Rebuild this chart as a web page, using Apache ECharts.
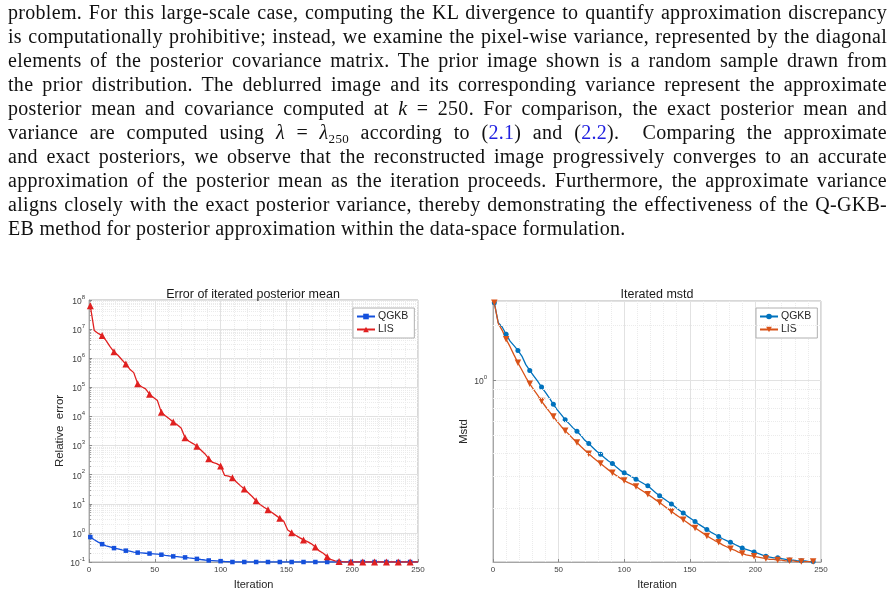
<!DOCTYPE html>
<html>
<head>
<meta charset="utf-8">
<script src="https://cdn.jsdelivr.net/npm/echarts@6/dist/echarts.min.js"></script>
<style>
	html, body { margin: 0; padding: 0; background: #fff; }
	#chart { position: absolute; left: 0; top: 0; width: 895px; height: 593px; }
	#para { position: absolute; left: 8px; top: 0; width: 879px; z-index: 2;
		font-family: 'Liberation Serif', 'DejaVu Serif', serif; font-size: 20px; letter-spacing: 0.3px; color: #111; }
	#para .ln { height: 24px; line-height: 24px; text-align: justify; text-align-last: justify; white-space: nowrap; }
	#para .ln.last { text-align-last: left; }
	#para sub { font-size: 13px; line-height: 0; vertical-align: -4px; }
	#para .ref { color: #2020e0; }
</style>
</head>
<body>
<div id="para">
	<div class="ln">problem. For this large-scale case, computing the KL divergence to quantify approximation discrepancy</div>
	<div class="ln">is computationally prohibitive; instead, we examine the pixel-wise variance, represented by the diagonal</div>
	<div class="ln">elements of the posterior covariance matrix. The prior image shown is a random sample drawn from</div>
	<div class="ln">the prior distribution. The deblurred image and its corresponding variance represent the approximate</div>
	<div class="ln">posterior mean and covariance computed at <i>k</i> = 250. For comparison, the exact posterior mean and</div>
	<div class="ln">variance are computed using <i>λ</i> = <i>λ</i><sub>250</sub> according to (<span class="ref">2.1</span>) and (<span class="ref">2.2</span>). &nbsp;Comparing the approximate</div>
	<div class="ln">and exact posteriors, we observe that the reconstructed image progressively converges to an accurate</div>
	<div class="ln">approximation of the posterior mean as the iteration proceeds. Furthermore, the approximate variance</div>
	<div class="ln">aligns closely with the exact posterior variance, thereby demonstrating the effectiveness of the Q-GKB-</div>
	<div class="ln last">EB method for posterior approximation within the data-space formulation.</div>
</div>
<div id="chart"></div>
<script>
// iterations sampled every 3 steps (markers every 9)
var iterLeft = [1, 4, 7, 10, 13, 16, 19, 22, 25, 28, 31, 34, 37, 40, 43, 46, 49, 52, 55, 58,
	61, 64, 67, 70, 73, 76, 79, 82, 85, 88, 91, 94, 97, 100, 103, 106, 109, 112, 115, 118,
	121, 124, 127, 130, 133, 136, 139, 142, 145, 148, 151, 154, 157, 160, 163, 166, 169, 172, 175, 178,
	181, 184, 187, 190, 193, 196, 199, 202, 205, 208, 211, 214, 217, 220, 223, 226, 229, 232, 235, 238,
	241, 244, 247, 250];
var errQGKB = [0.72, 0.58, 0.48, 0.41, 0.36, 0.33, 0.30, 0.28, 0.26, 0.245, 0.235, 0.22, 0.21, 0.205, 0.20, 0.195, 0.19, 0.185, 0.178, 0.17,
	0.163, 0.156, 0.152, 0.148, 0.144, 0.138, 0.133, 0.128, 0.122, 0.117, 0.113, 0.111, 0.109, 0.107, 0.104, 0.102, 0.1, 0.1, 0.1, 0.1,
	0.1, 0.1, 0.1, 0.1, 0.1, 0.1, 0.1, 0.1, 0.1, 0.1, 0.1, 0.1, 0.1, 0.1, 0.1, 0.1, 0.1, 0.1, 0.1, 0.1,
	0.1, 0.1, 0.1, 0.1, 0.1, 0.1, 0.1, 0.1, 0.1, 0.1, 0.1, 0.1, 0.1, 0.1, 0.1, 0.1, 0.1, 0.1, 0.1, 0.1,
	0.1, 0.1, 0.1, 0.1];
var errLIS = [6.3e7, 8.9e6, 7.1e6, 6.0e6, 4.0e6, 2.5e6, 1.66e6, 1.26e6, 8.9e5, 6.3e5, 4.2e5, 3.2e5, 1.32e5, 1.05e5, 8.9e4, 5.8e4, 4.5e4, 3.5e4, 1.38e4, 1.05e4,
	8.3e3, 6.5e3, 5.2e3, 4.0e3, 1.86e3, 1.41e3, 1.17e3, 955, 708, 525, 355, 263, 240, 200, 95, 89, 79, 56, 42, 32,
	24, 17.8, 12.6, 9.5, 7.6, 6.2, 5.0, 4.0, 3.2, 2.5, 1.26, 1.02, 0.83, 0.69, 0.575, 0.50, 0.42, 0.33, 0.24, 0.20,
	0.151, 0.12, 0.11, 0.105, 0.102, 0.1, 0.1, 0.1, 0.1, 0.1, 0.1, 0.1, 0.1, 0.1, 0.1, 0.1, 0.1, 0.1, 0.1, 0.1,
	0.1, 0.1, 0.1, 0.1];

var iterRight = [1, 4, 7, 10, 13, 16, 19, 22, 25, 28, 31, 34, 37, 40, 43, 46, 49, 52, 55, 58,
	61, 64, 67, 70, 73, 76, 79, 82, 85, 88, 91, 94, 97, 100, 103, 106, 109, 112, 115, 118,
	121, 124, 127, 130, 133, 136, 139, 142, 145, 148, 151, 154, 157, 160, 163, 166, 169, 172, 175, 178,
	181, 184, 187, 190, 193, 196, 199, 202, 205, 208, 211, 214, 217, 220, 223, 226, 229, 232, 235, 238,
	241, 244];
var mstdQGKB = [2.66, 2.07, 1.96, 1.79, 1.64, 1.55, 1.46, 1.36, 1.22, 1.134, 1.06, 0.99, 0.92, 0.86, 0.80, 0.74, 0.69, 0.65, 0.61, 0.58,
	0.55, 0.527, 0.50, 0.47, 0.451, 0.43, 0.41, 0.395, 0.378, 0.362, 0.351, 0.336, 0.322, 0.312, 0.305, 0.296, 0.288, 0.280, 0.272, 0.265,
	0.254, 0.243, 0.234, 0.226, 0.218, 0.211, 0.203, 0.195, 0.188, 0.181, 0.175, 0.169, 0.163, 0.158, 0.153, 0.148, 0.144, 0.140, 0.136, 0.133,
	0.130, 0.127, 0.124, 0.121, 0.119, 0.117, 0.115, 0.113, 0.111, 0.109, 0.108, 0.107, 0.107, 0.106, 0.105, 0.104, 0.104, 0.103, 0.103, 0.103,
	0.102, 0.102];
var mstdLIS = [2.66, 2.05, 1.88, 1.68, 1.53, 1.38, 1.25, 1.14, 1.04, 0.959, 0.89, 0.83, 0.771, 0.72, 0.675, 0.634, 0.595, 0.56, 0.531, 0.505,
	0.48, 0.457, 0.435, 0.415, 0.397, 0.38, 0.365, 0.351, 0.337, 0.324, 0.312, 0.302, 0.292, 0.283, 0.276, 0.270, 0.263, 0.254, 0.246, 0.238,
	0.230, 0.222, 0.215, 0.207, 0.199, 0.192, 0.185, 0.179, 0.173, 0.167, 0.161, 0.156, 0.151, 0.146, 0.141, 0.137, 0.133, 0.130, 0.126, 0.123,
	0.120, 0.118, 0.115, 0.113, 0.111, 0.110, 0.109, 0.108, 0.107, 0.106, 0.105, 0.105, 0.104, 0.104, 0.103, 0.103, 0.103, 0.102, 0.102, 0.102,
	0.102, 0.102];

var xTicks = [0, 50, 100, 150, 200, 250];
var mstdMinorGrid = [0.2, 0.3, 0.4, 0.5, 0.6, 0.7, 0.8, 0.9, 2];

var sans = 'Liberation Sans, Arial, sans-serif';
var gridMajor = '#e2e2e2';
var gridMinor = '#ebebeb';

function buildData(xs, ys) {
	var out = [];
	for (var i = 0; i < xs.length; i++) {
		var item = { value: [xs[i], ys[i]] };
		if (i % 3 !== 0) {
			item.symbol = 'none';
		}
		out.push(item);
	}
	return out;
}

function powLabel(v) {
	var e = Math.log10(v);
	if (Math.abs(e - Math.round(e)) > 1e-6) return '';
	return '{b|10}{s|' + Math.round(e) + '}';
}

var powRich = {
	b: { fontSize: 8.5, lineHeight: 12, verticalAlign: 'bottom', color: '#404040', fontFamily: sans },
	s: { fontSize: 6, lineHeight: 6, verticalAlign: 'top', color: '#404040', fontFamily: sans }
};

function xAxisOf(gridIdx) {
	return {
		gridIndex: gridIdx, type: 'value', min: xTicks[0], max: xTicks[xTicks.length - 1], interval: 50,
		name: 'Iteration', nameLocation: 'middle', nameGap: 17,
		nameTextStyle: { fontSize: 11, color: '#262626', fontFamily: sans },
		axisLine: { lineStyle: { color: '#a6a6a6' } },
		axisTick: { inside: true, length: 3, lineStyle: { color: '#8a8a8a' } },
		axisLabel: { fontSize: 8, color: '#404040', fontFamily: sans, margin: 4 },
		splitLine: { lineStyle: { color: gridMajor } },
		minorTick: { show: false, splitNumber: 5 },
		minorSplitLine: { show: true, lineStyle: { color: gridMinor, type: 'dotted' } }
	};
}

var myChart = echarts.init(document.getElementById('chart'));
var option = {
	animation: false,
	backgroundColor: '#fff',
	title: [{
		text: 'Error of iterated posterior mean',
		left: 248, top: 283, textAlign: 'center',
		textStyle: { fontSize: 12.5, fontWeight: 'normal', color: '#1a1a1a', fontFamily: sans }
	}, {
		text: 'Iterated mstd',
		left: 652, top: 283, textAlign: 'center',
		textStyle: { fontSize: 12.5, fontWeight: 'normal', color: '#1a1a1a', fontFamily: sans }
	}],
	legend: [{
		data: ['QGKB', 'LIS'],
		orient: 'vertical', left: 353, top: 308,
		itemWidth: 18, itemHeight: 7, itemGap: 2, padding: [3, 6, 3, 3],
		backgroundColor: '#fff', borderColor: '#b0b0b0', borderWidth: 1, borderRadius: 0,
		textStyle: { fontSize: 10.5, color: '#262626', fontFamily: sans, padding: [0, 0, 0, -2] }
	}, {
		data: ['QGKB (mstd)', 'LIS (mstd)'],
		orient: 'vertical', left: 756, top: 308,
		itemWidth: 18, itemHeight: 7, itemGap: 2, padding: [3, 6, 3, 3],
		backgroundColor: '#fff', borderColor: '#b0b0b0', borderWidth: 1, borderRadius: 0,
		formatter: function (name) { return name.split(' ')[0]; },
		textStyle: { fontSize: 10.5, color: '#262626', fontFamily: sans, padding: [0, 0, 0, -2] }
	}],
	grid: [
		{ left: 89, top: 300, width: 329, height: 262, show: true, borderColor: '#b0b0b0', borderWidth: 1 },
		{ left: 493, top: 301, width: 328, height: 261, show: true, borderColor: '#b0b0b0', borderWidth: 1 }
	],
	xAxis: [xAxisOf(0), xAxisOf(1)],
	yAxis: [{
		gridIndex: 0, type: 'log', logBase: 10, min: 0.1, max: 1e8,
		name: 'Relative  error', nameLocation: 'middle', nameGap: 20,
		nameTextStyle: { fontSize: 11.5, color: '#262626', fontFamily: sans },
		axisLine: { lineStyle: { color: '#a6a6a6' } },
		axisTick: { inside: true, length: 3, lineStyle: { color: '#8a8a8a' } },
		axisLabel: { formatter: powLabel, rich: powRich, margin: 4 },
		splitLine: { lineStyle: { color: gridMajor } },
		minorTick: { show: true, splitNumber: 9, length: 2, lineStyle: { color: '#a0a0a0' } },
		minorSplitLine: { show: true, lineStyle: { color: gridMinor, type: 'dotted' } }
	}, {
		gridIndex: 1, type: 'log', logBase: 10, min: 0.1015, max: 2.72,
		name: 'Mstd', nameLocation: 'middle', nameGap: 19,
		nameTextStyle: { fontSize: 11.5, color: '#262626', fontFamily: sans },
		axisLine: { lineStyle: { color: '#a6a6a6' } },
		axisTick: { inside: true, length: 3, lineStyle: { color: '#8a8a8a' } },
		axisLabel: { formatter: powLabel, rich: powRich, margin: 6, showMinLabel: false, showMaxLabel: false },
		splitLine: { lineStyle: { color: gridMajor } }
	}],
	series: [{
		name: 'QGKB', type: 'line', xAxisIndex: 0, yAxisIndex: 0,
		data: buildData(iterLeft, errQGKB),
		symbol: 'rect', symbolSize: 4.5, showSymbol: true,
		itemStyle: { color: '#1450dc' },
		lineStyle: { color: '#1450dc', width: 1.3 }
	}, {
		name: 'LIS', type: 'line', xAxisIndex: 0, yAxisIndex: 0,
		data: buildData(iterLeft, errLIS),
		symbol: 'triangle', symbolSize: 7, showSymbol: true,
		itemStyle: { color: '#e02020' },
		lineStyle: { color: '#e02020', width: 1.3 }
	}, {
		name: 'QGKB (mstd)', type: 'line', xAxisIndex: 1, yAxisIndex: 1,
		data: buildData(iterRight, mstdQGKB),
		symbol: 'circle', symbolSize: 5, showSymbol: true,
		itemStyle: { color: '#0072bd' },
		lineStyle: { color: '#0072bd', width: 1.3 },
		markLine: {
			silent: true, symbol: 'none', label: { show: false },
			lineStyle: { color: gridMinor, type: 'dotted', width: 1 },
			data: mstdMinorGrid.map(function (v) { return { yAxis: v }; })
		}
	}, {
		name: 'LIS (mstd)', type: 'line', xAxisIndex: 1, yAxisIndex: 1,
		data: buildData(iterRight, mstdLIS),
		symbol: 'triangle', symbolSize: 6.5, symbolRotate: 180, showSymbol: true,
		itemStyle: { color: '#d95319' },
		lineStyle: { color: '#d95319', width: 1.3 }
	}]
};
myChart.setOption(option);
</script>
</body>
</html>
